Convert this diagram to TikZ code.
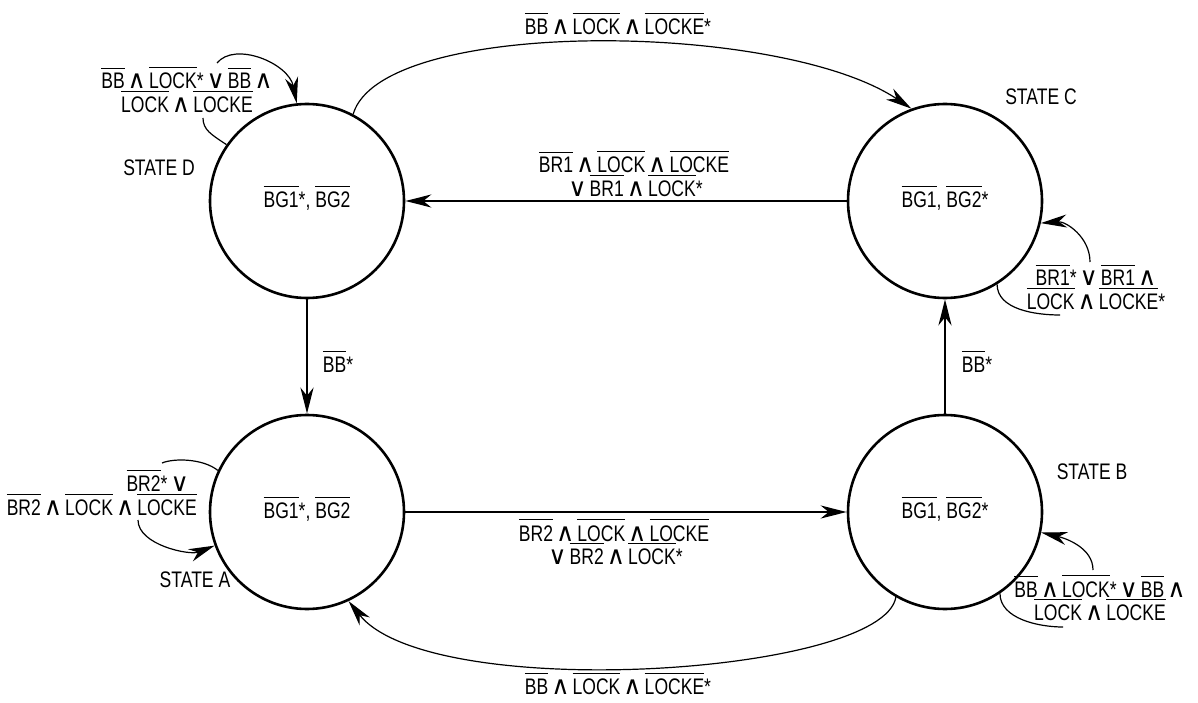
\documentclass[tikz,border=0pt]{standalone}
\usepackage{fontspec}
\setmainfont{Liberation Sans}[FakeStretch=0.78]
\newfontfamily\symf{DejaVu Serif}
\usetikzlibrary{arrows.meta}
\newcommand\ol[1]{\leavevmode\setbox0\hbox{#1}\rlap{\smash{\raisebox{\dimexpr\ht0+5pt\relax}{\rule{\wd0}{0.9pt}}}}\box0}
\newcommand\AND{\hspace{3pt}{\symf\fontsize{25}{25}\selectfont ∧}\hspace{3pt}}
\newcommand\OR{\hspace{3pt}{\symf\fontsize{25}{25}\selectfont ∨}\hspace{3pt}}
\newcommand\lblfont{\fontsize{22.5}{23.5}\selectfont}
\begin{document}
\begin{tikzpicture}[x=1pt,y=-1pt,
  state/.style={circle, draw, line width=2.6pt, minimum size=194pt, inner sep=0pt, font=\lblfont},
  lbl/.style={font=\lblfont, align=center, inner sep=0pt},
  tipsty/.style={-{Stealth[length=26pt,width=13pt,inset=8pt]}},
  thinarrow/.style={line width=1.6pt, tipsty},
  thickarrow/.style={line width=2.6pt, tipsty},
  curve/.style={line width=1.2pt},
]
\useasboundingbox (0,0) rectangle (1198,703);
% states
\node[state] (D) at (307,201) {\ol{BG1}*, \ol{BG2}};
\node[state] (C) at (945,201) {\ol{BG1}, \ol{BG2}*};
\node[state] (A) at (307,512) {\ol{BG1}*, \ol{BG2}};
\node[state] (B) at (945,512) {\ol{BG1}, \ol{BG2}*};
% state names
\node[lbl] (sD) at (159,168) {STATE D};
\node[lbl] (sC) at (1041,97) {STATE C};
\node[lbl] (sB) at (1092,472) {STATE B};
\node[lbl] (sA) at (195,580) {STATE A};
% straight transitions
\draw[thinarrow] (C) -- (D);
\draw[thinarrow] (A) -- (B);
\draw[thickarrow] (D) -- (A);
\draw[thickarrow] (B) -- (C);
% curved transitions
\draw[curve, tipsty] (D.62) .. controls +(28,-97) and +(-132,-88) .. (C.110);
\draw[curve, tipsty] (B.240) .. controls +(-13,78) and +(82,103) .. (A.295);
% self loops
\coordinate (dl1) at (203,118); \coordinate (dl2) at (217,63);
\draw[curve] (D.145) .. controls +(-15,-10) and +(0,12) .. (dl1);
\draw[curve, tipsty] (dl2) .. controls +(18,-22) and +(-8,-40) .. (D.96);
\coordinate (cl1) at (1060,315); \coordinate (cl2) at (1090,262);
\draw[curve] (C.-58) .. controls +(0,25) and +(-25,0) .. (cl1);
\draw[curve, tipsty] (cl2) .. controls +(0,-25) and +(25,-2) .. (C.-13);
\coordinate (bl1) at (1063,627); \coordinate (bl2) at (1093,570);
\draw[curve] (B.-56) .. controls +(0,25) and +(-25,0) .. (bl1);
\draw[curve, tipsty] (bl2) .. controls +(0,-22) and +(25,6) .. (B.-12);
\coordinate (al1) at (162,463); \coordinate (al2) at (138,520);
\draw[curve] (A.155) .. controls +(-15,-12) and +(12,-5) .. (al1);
\draw[curve, tipsty] (al2) .. controls +(0,25) and +(-25,10) .. (A.200);
% transition labels
\node[lbl] (lt) at (618,27) {\ol{BB}\AND\ol{LOCK}\AND\ol{LOCKE}*};
\node[lbl] (lb) at (618,687) {\ol{BB}\AND\ol{LOCK}\AND\ol{LOCKE}*};
\node[lbl] (lcd) at (634,177) {\ol{BR1}\AND\ol{LOCK}\AND\ol{LOCKE}\\\OR\ol{BR1}\AND\ol{LOCK}*};
\node[lbl] (lab) at (614,545) {\ol{BR2}\AND\ol{LOCK}\AND\ol{LOCKE}\\\OR\ol{BR2}\AND\ol{LOCK}*};
\node[lbl] (lda) at (338,365) {\ol{BB}*};
\node[lbl] (lbc) at (977,365) {\ol{BB}*};
\node[lbl] (lD) at (187,93) {\ol{BB}\AND\ol{LOCK}*\OR\ol{BB}\AND\\\ol{LOCK}\AND\ol{LOCKE}};
\node[lbl] (lC) at (1096,290) {\ol{BR1}*\OR\ol{BR1}\AND\\\ol{LOCK}\AND\ol{LOCKE}*};
\node[lbl] (lB) at (1100,601) {\ol{BB}\AND\ol{LOCK}*\OR\ol{BB}\AND\\\ol{LOCK}\AND\ol{LOCKE}};
\node[lbl, align=right, anchor=east] (lA) at (197,496) {\ol{BR2}*\OR\hspace*{5pt}\\\ol{BR2}\AND\ol{LOCK}\AND\ol{LOCKE}};
\end{tikzpicture}
\end{document}
